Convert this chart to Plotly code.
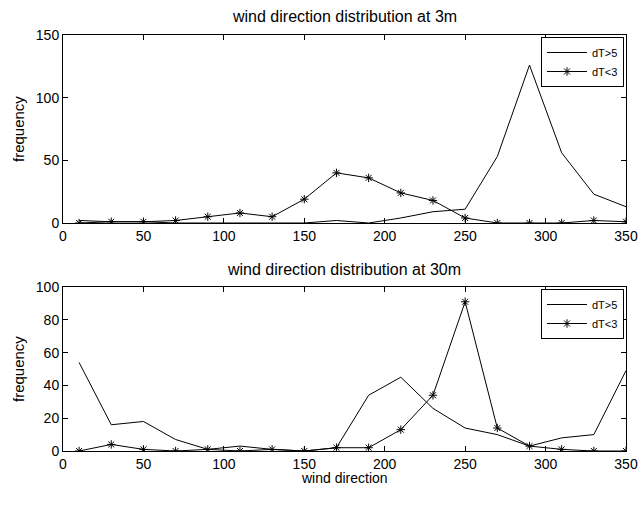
import plotly.graph_objects as go

directions = [10, 30, 50, 70, 90, 110, 130, 150, 170, 190, 210, 230, 250, 270, 290, 310, 330, 350]

top_dT_gt5 = [2, 1, 1, 0, 0, 0, 0, 0, 2, 0, 4, 9, 11, 53, 126, 56, 23, 13]
top_dT_lt3 = [0, 1, 1, 2, 5, 8, 5, 19, 40, 36, 24, 18, 4, 0, 0, 0, 2, 1]

bot_dT_gt5 = [54, 16, 18, 7, 1, 3, 1, 0, 2, 34, 45, 26, 14, 10, 3, 8, 10, 49]
bot_dT_lt3 = [0, 4, 1, 0, 1, 0, 1, 0, 2, 2, 13, 34, 91, 14, 3, 1, 0, 0]

x_ticks = [0, 50, 100, 150, 200, 250, 300, 350]
top_y_ticks = [0, 50, 100, 150]
bot_y_ticks = [0, 20, 40, 60, 80, 100]

FONT = "Liberation Sans, Arial, Helvetica, sans-serif"

fig = go.Figure()

line_style = dict(color="black", width=1)
marker_style = dict(symbol="asterisk-open", size=7, color="black", line=dict(color="black", width=1))

fig.add_trace(go.Scatter(x=directions, y=top_dT_gt5, mode="lines", line=line_style,
                         name="dT>5", xaxis="x", yaxis="y", legend="legend"))
fig.add_trace(go.Scatter(x=directions, y=top_dT_lt3, mode="lines+markers", line=line_style,
                         marker=marker_style, name="dT<3", xaxis="x", yaxis="y", legend="legend"))
fig.add_trace(go.Scatter(x=directions, y=bot_dT_gt5, mode="lines", line=line_style,
                         name="dT>5", xaxis="x2", yaxis="y2", legend="legend2"))
fig.add_trace(go.Scatter(x=directions, y=bot_dT_lt3, mode="lines+markers", line=line_style,
                         marker=marker_style, name="dT<3", xaxis="x2", yaxis="y2", legend="legend2"))

# Figure fills the window (body margin removed in post_script)
W, H = 638, 520
# plot area in window pixels: x 63..626, y 35..451
PL, PR, PT, PB = 63, 626, 35, 451
L, T, R, B = PL, PT, W - PR, H - PB
PH = PB - PT
PW = PR - PL


def py(pix):
    return (PB - pix) / PH


def px(pix):
    return (pix - PL) / PW


axis_common = dict(
    showline=True, linecolor="black", linewidth=1, mirror="ticks",
    ticks="inside", ticklen=5, tickcolor="black", tickwidth=1,
    showgrid=False, zeroline=False, automargin=False,
    tickfont=dict(family=FONT, size=14, color="black"),
)

legend_common = dict(
    xanchor="right", yanchor="top",
    bordercolor="black", borderwidth=1, bgcolor="white",
    font=dict(family=FONT, size=11, color="black"),
    itemwidth=40, tracegroupgap=0,
)

fig.update_layout(
    autosize=False,
    width=W, height=H,
    margin=dict(l=L, r=R, t=T, b=B, autoexpand=False),
    paper_bgcolor="white", plot_bgcolor="white",
    font=dict(family=FONT, color="black"),
    hovermode=False,
    xaxis=dict(domain=[0, 1], anchor="y", range=[0, 350], tickvals=x_ticks, **axis_common),
    yaxis=dict(domain=[py(223), 1], anchor="x", range=[0, 150], tickvals=top_y_ticks, **axis_common),
    xaxis2=dict(domain=[0, 1], anchor="y2", range=[0, 350], tickvals=x_ticks, **axis_common),
    yaxis2=dict(domain=[0, py(287)], anchor="x2", range=[0, 100], tickvals=bot_y_ticks, **axis_common),
    legend=dict(x=px(624), y=py(37), **legend_common),
    legend2=dict(x=px(624), y=py(289), **legend_common),
    showlegend=True,
)

annots = [
    dict(text="wind direction distribution at 3m", x=px(344), y=py(16), size=16, angle=0),
    dict(text="wind direction distribution at 30m", x=px(344), y=py(269), size=16, angle=0),
    dict(text="wind direction", x=px(344), y=py(478), size=14, angle=0),
    dict(text="frequency", x=px(18), y=py(129), size=15, angle=-90),
    dict(text="frequency", x=px(18), y=py(369), size=15, angle=-90),
]
for a in annots:
    fig.add_annotation(text=a["text"], xref="paper", yref="paper", x=a["x"], y=a["y"],
                       xanchor="center", yanchor="middle", showarrow=False, textangle=a["angle"],
                       font=dict(family=FONT, size=a["size"], color="black"))

fig.write_html(
    "out.html",
    config={"displayModeBar": False},
    post_script="document.body.style.margin='0';document.body.style.overflow='hidden';",
)
